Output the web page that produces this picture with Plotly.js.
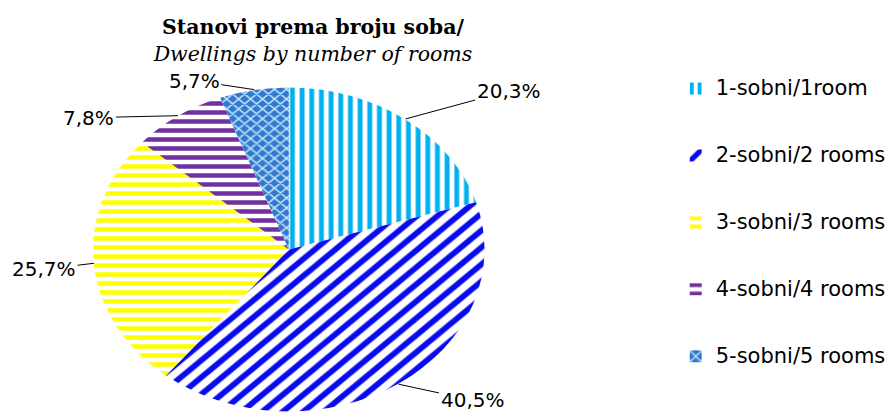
<!DOCTYPE html>
<html>
<head>
<meta charset="utf-8">
<script src="https://cdn.plot.ly/plotly-3.0.1.min.js"></script>
<style>
  html, body { margin: 0; padding: 0; background: #fff; overflow: hidden; }
  #chart { width: 891px; height: 412px; }
  /* reference pie is a horizontally stretched circle (ellipse) */
  #chart .pielayer { transform-origin: 290px 249.5px; transform: scaleX(1.2086); }
</style>
</head>
<body>
<div id="chart"></div>
<script>
// ---- data ----
const categories = ['1-sobni/1room', '2-sobni/2 rooms', '3-sobni/3 rooms', '4-sobni/4 rooms', '5-sobni/5 rooms'];
const shares = [20.3, 40.5, 25.7, 7.8, 5.7];
const sliceColors = ['#00B0F0', '#0A0AF0', '#FFFF00', '#7030A0', '#2E7AD0'];
const patternFg = ['#00B0F0', '#0A0AF0', '#FFFF00', '#7030A0', '#CDE5F7'];
const patternBg = ['#FFFFFF', '#FFFFFF', '#FFFFFF', '#FFFFFF', '#2E7AD0'];
const patternShapes = ['|', '/', '-', '-', 'x'];

// ---- build ----
const fmt = v => v.toFixed(1).replace('.', ',') + '%';
const NB = '\u00A0';
const legendLabels = categories.map(c => NB + '<br><span style="font-size:21px">' + c + '</span><br>' + NB);

const W = 891, H = 412;
const cx = 290, cy = 249.5, r = 162.5, sx = 1.2086;

const trace = {
  type: 'pie',
  labels: legendLabels,
  values: shares,
  sort: false,
  direction: 'clockwise',
  rotation: 0,
  textinfo: 'none',
  hoverinfo: 'none',
  marker: {
    colors: sliceColors,
    line: { width: 0 },
    pattern: {
      shape: patternShapes,
      fgcolor: patternFg,
      bgcolor: patternBg,
      size: [8, 12, 9, 9, 7],
      solidity: [0.5, 0.45, 0.5, 0.5, 0.35],
      fillmode: 'replace'
    }
  },
  domain: { x: [(cx - r) / W, (cx + r) / W], y: [0, (2 * r) / H] }
};

// leader-line labels, anchored at each slice's mid-angle on the (stretched) rim
const offsets = [[103, -28], [74, 16], [-50, 6], [-89, 2], [-60, -9]];
const total = shares.reduce((a, b) => a + b, 0);
let cum = 0;
const annotations = shares.map((v, i) => {
  const mid = (cum + v / 2) / total; cum += v;
  const th = 2 * Math.PI * mid;
  const px = cx + r * sx * Math.sin(th);
  const py = cy - r * Math.cos(th);
  return {
    x: px / W, y: 1 - py / H, xref: 'paper', yref: 'paper',
    text: fmt(v), showarrow: true, arrowhead: 0, arrowwidth: 1, arrowcolor: '#000',
    standoff: 0, ax: offsets[i][0], ay: offsets[i][1],
    font: { family: 'DejaVu Sans', size: 20, color: '#000' }
  };
});

const layout = {
  width: W, height: H,
  margin: { l: 0, r: 0, t: 0, b: 0 },
  paper_bgcolor: '#fff',
  title: {
    text: '<b>Stanovi prema broju soba/</b><br><i>Dwellings by number of rooms</i>',
    x: 313 / W, xanchor: 'center', y: 1 - 34 / H, yanchor: 'middle',
    font: { family: 'DejaVu Serif', size: 20.5, color: '#000' }
  },
  showlegend: true,
  legend: {
    x: 678 / W, xanchor: 'left', y: 1 - 50 / H, yanchor: 'top',
    bgcolor: 'rgba(0,0,0,0)',
    font: { family: 'DejaVu Sans', size: 16.4, color: '#000' },
    traceorder: 'normal'
  },
  annotations: annotations
};

Plotly.newPlot('chart', [trace], layout, { displayModeBar: false, staticPlot: true });
</script>
</body>
</html>
